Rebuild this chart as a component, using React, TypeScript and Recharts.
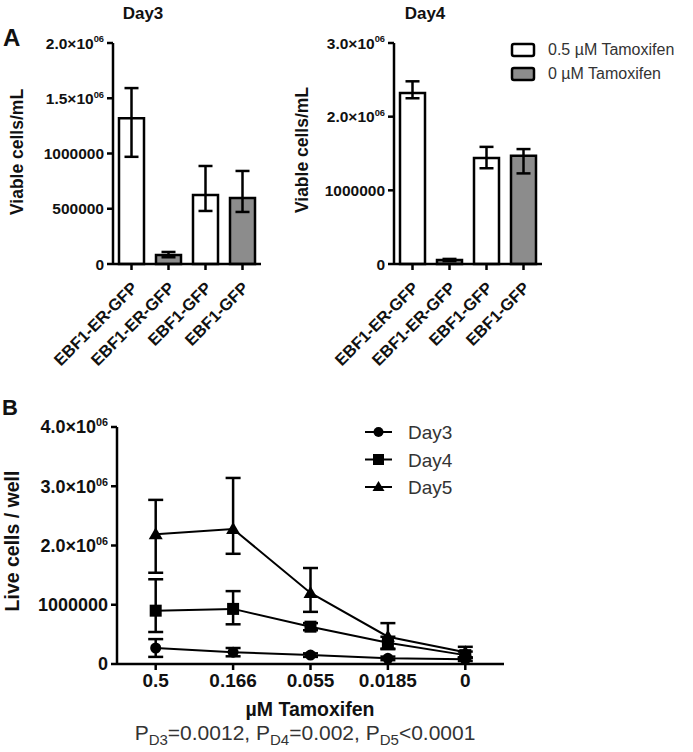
import { BarChart, Bar, Cell, XAxis, YAxis, ErrorBar, LineChart, Line } from 'recharts';

const FONT = "'Liberation Sans', Arial, Helvetica, sans-serif";

// Panel A - viable cells/mL
const groups = ['EBF1-ER-GFP', 'EBF1-ER-GFP', 'EBF1-GFP', 'EBF1-GFP'];
const tamoxifen = ['0.5', '0', '0.5', '0'];

const day3Cells = [1320000, 81000, 624000, 598000];
const day3Errors = [[350000, 272000], [20000, 28000], [144000, 263000], [127000, 244000]];
const day3Ticks = [0, 500000, 1000000, 1500000, 2000000];

const day4Cells = [2320000, 54000, 1440000, 1470000];
const day4Errors = [[70000, 160000], [15000, 15000], [140000, 150000], [240000, 90000]];
const day4Ticks = [0, 1000000, 2000000, 3000000];

// Panel B - live cells / well
const doses = ['0.5', '0.166', '0.055', '0.0185', '0'];
const liveDay3 = [270000, 200000, 150000, 95000, 80000];
const liveDay3Err = [[150000, 150000], [70000, 70000], [30000, 30000], [30000, 30000], [30000, 30000]];
const liveDay4 = [900000, 930000, 630000, 360000, 150000];
const liveDay4Err = [[360000, 530000], [260000, 300000], [60000, 60000], [100000, 100000], [50000, 60000]];
const liveDay5 = [2190000, 2280000, 1200000, 460000, 200000];
const liveDay5Err = [[650000, 580000], [420000, 860000], [320000, 420000], [210000, 230000], [90000, 90000]];
const liveTicks = [0, 1000000, 2000000, 3000000, 4000000];

const barRows = (cells: number[], errs: number[][]) =>
  groups.map((g, i) => ({ group: g, tam: tamoxifen[i], cells: cells[i], err: errs[i] }));

const lineRows = doses.map((d, i) => ({
  dose: d,
  d3: liveDay3[i], d3e: liveDay3Err[i],
  d4: liveDay4[i], d4e: liveDay4Err[i],
  d5: liveDay5[i], d5e: liveDay5Err[i],
}));

const fillFor = (t: string) => (t === '0' ? '#8c8c8c' : '#ffffff');

const axisStyle = { stroke: '#000', strokeWidth: 2.5 };

const YTick = ({ x, y, payload, fs }: any) => {
  const v = payload.value as number;
  const sci = v > 1000000;
  const main = sci ? `${(v / 1000000).toFixed(1)}×10` : String(v);
  return (
    <text x={x} y={y} dy={fs * 0.36} textAnchor="end" fontFamily={FONT} fontWeight="bold" fontSize={fs} fill="#111">
      {main}
      {sci && (
        <tspan dy={-fs * 0.4} fontSize={fs * 0.6}>06</tspan>
      )}
    </text>
  );
};

const GroupTick = ({ x, y, payload }: any) => (
  <g transform={`translate(${x + 7},${y + 19}) rotate(-45)`}>
    <text x={0} y={0} textAnchor="end" fontFamily={FONT} fontWeight="bold" fontSize={16.5} fill="#111">
      {payload.value}
    </text>
  </g>
);

function BarPanel({ cells, errs, ticks, max, left, axisX }: any) {
  const data = barRows(cells, errs);
  return (
    <div style={{ position: 'absolute', left, top: 0 }}>
      <BarChart width={axisX + 148 + 20} height={370} data={data}
        margin={{ top: 43, right: 20, bottom: 0, left: 0 }}>
        <XAxis dataKey="group" interval={0} height={106} tickSize={6} tickMargin={0}
          axisLine={axisStyle} tickLine={axisStyle} tick={<GroupTick />} />
        <YAxis type="number" domain={[0, max]} ticks={ticks} interval={0} width={axisX}
          tickSize={6} tickMargin={3} axisLine={axisStyle} tickLine={axisStyle}
          tick={(p: any) => <YTick {...p} fs={15.5} />} />
        <Bar dataKey="cells" barSize={25} stroke="#000" strokeWidth={2.5} isAnimationActive={false}>
          {data.map((d, i) => <Cell key={i} fill={fillFor(d.tam)} />)}
          <ErrorBar dataKey="err" width={7} stroke="#000" strokeWidth={2.5} />
        </Bar>
      </BarChart>
    </div>
  );
}

const dotCircle = (p: any) => <circle key={p.index} cx={p.cx} cy={p.cy} r={5.5} fill="#000" />;
const dotSquare = (p: any) => <rect key={p.index} x={p.cx - 6} y={p.cy - 6} width={12} height={12} fill="#000" />;
const dotTriangle = (p: any) => (
  <polygon key={p.index} points={`${p.cx},${p.cy - 7} ${p.cx + 7},${p.cy + 5} ${p.cx - 7},${p.cy + 5}`} fill="#000" />
);

const legendMarks = [
  { name: 'Day3', mark: (cx: number, cy: number) => <circle cx={cx} cy={cy} r={5} fill="#000" /> },
  { name: 'Day4', mark: (cx: number, cy: number) => <rect x={cx - 5.5} y={cy - 5.5} width={11} height={11} fill="#000" /> },
  { name: 'Day5', mark: (cx: number, cy: number) => <polygon points={`${cx},${cy - 6} ${cx + 6},${cy + 4} ${cx - 6},${cy + 4}`} fill="#000" /> },
];

export default function App() {
  return (
    <div style={{ position: 'absolute', left: 0, top: 0, width: 693, height: 752, background: '#fff', overflow: 'hidden' }}>
      <BarPanel cells={day3Cells} errs={day3Errors} ticks={day3Ticks} max={2000000} left={0} axisX={113} />
      <BarPanel cells={day4Cells} errs={day4Errors} ticks={day4Ticks} max={3000000} left={280} axisX={114} />

      <div style={{ position: 'absolute', left: 0, top: 380 }}>
        <LineChart width={693} height={372} data={lineRows} margin={{ top: 47, right: 189, bottom: 0, left: 0 }}>
          <XAxis dataKey="dose" interval={0} height={88} tickSize={6} tickMargin={4}
            padding={{ left: 38.7, right: 38.7 }}
            axisLine={axisStyle} tickLine={axisStyle}
            tick={{ fontFamily: FONT, fontWeight: 'bold', fontSize: 19, fill: '#111' }} />
          <YAxis type="number" domain={[0, 4000000]} ticks={liveTicks} interval={0} width={117}
            tickSize={6} tickMargin={3} axisLine={axisStyle} tickLine={axisStyle}
            tick={(p: any) => <YTick {...p} fs={18} />} />
          <Line dataKey="d5" stroke="#000" strokeWidth={2} dot={dotTriangle} isAnimationActive={false}>
            <ErrorBar dataKey="d5e" width={7.5} stroke="#000" strokeWidth={2.5} />
          </Line>
          <Line dataKey="d4" stroke="#000" strokeWidth={2} dot={dotSquare} isAnimationActive={false}>
            <ErrorBar dataKey="d4e" width={7.5} stroke="#000" strokeWidth={2.5} />
          </Line>
          <Line dataKey="d3" stroke="#000" strokeWidth={2} dot={dotCircle} isAnimationActive={false}>
            <ErrorBar dataKey="d3e" width={7.5} stroke="#000" strokeWidth={2.5} />
          </Line>
        </LineChart>
      </div>

      <svg width={693} height={752} style={{ position: 'absolute', left: 0, top: 0, pointerEvents: 'none' }}>
        <text x={3} y={46} fontFamily={FONT} fontWeight="bold" fontSize={24} fill="#111">A</text>
        <text x={143} y={19} textAnchor="middle" fontFamily={FONT} fontWeight="bold" fontSize={17} fill="#111">Day3</text>
        <text x={425} y={19} textAnchor="middle" fontFamily={FONT} fontWeight="bold" fontSize={17} fill="#111">Day4</text>
        <text x={17} y={152} transform="rotate(-90 17 152)" textAnchor="middle" dy={6}
          fontFamily={FONT} fontWeight="bold" fontSize={17.5} fill="#111">Viable cells/mL</text>
        <text x={302} y={150} transform="rotate(-90 302 150)" textAnchor="middle" dy={6}
          fontFamily={FONT} fontWeight="bold" fontSize={17.5} fill="#111">Viable cells/mL</text>

        <rect x={512} y={44} width={22} height={12} rx={2} fill="#fff" stroke="#000" strokeWidth={2.5} />
        <text x={548} y={55} fontFamily={FONT} fontSize={16} fill="#333">0.5 µM Tamoxifen</text>
        <rect x={512} y={68} width={22} height={12} rx={2} fill="#8c8c8c" stroke="#000" strokeWidth={2.5} />
        <text x={548} y={79} fontFamily={FONT} fontSize={16} fill="#333">0 µM Tamoxifen</text>

        <text x={2} y={415} fontFamily={FONT} fontWeight="bold" fontSize={22} fill="#111">B</text>
        <text x={12} y={541} transform="rotate(-90 12 541)" textAnchor="middle" dy={7}
          fontFamily={FONT} fontWeight="bold" fontSize={19.5} fill="#111">Live cells / well</text>
        {legendMarks.map((m, i) => {
          const cy = 432 + i * 27.5;
          return (
            <g key={m.name}>
              <line x1={365} y1={cy} x2={392} y2={cy} stroke="#000" strokeWidth={2} />
              {m.mark(378.5, cy)}
              <text x={408} y={cy + 7} fontFamily={FONT} fontSize={19} fill="#333">{m.name}</text>
            </g>
          );
        })}
        <text x={310} y={716} textAnchor="middle" fontFamily={FONT} fontWeight="bold" fontSize={19.5} fill="#111">µM Tamoxifen</text>
        <text x={305} y={740} textAnchor="middle" fontFamily={FONT} fontSize={21} fill="#333">
          P<tspan dy={5} fontSize={15}>D3</tspan><tspan dy={-5}>=0.0012, P</tspan>
          <tspan dy={5} fontSize={15}>D4</tspan><tspan dy={-5}>=0.002, P</tspan>
          <tspan dy={5} fontSize={15}>D5</tspan><tspan dy={-5}>&lt;0.0001</tspan>
        </text>
      </svg>
    </div>
  );
}
